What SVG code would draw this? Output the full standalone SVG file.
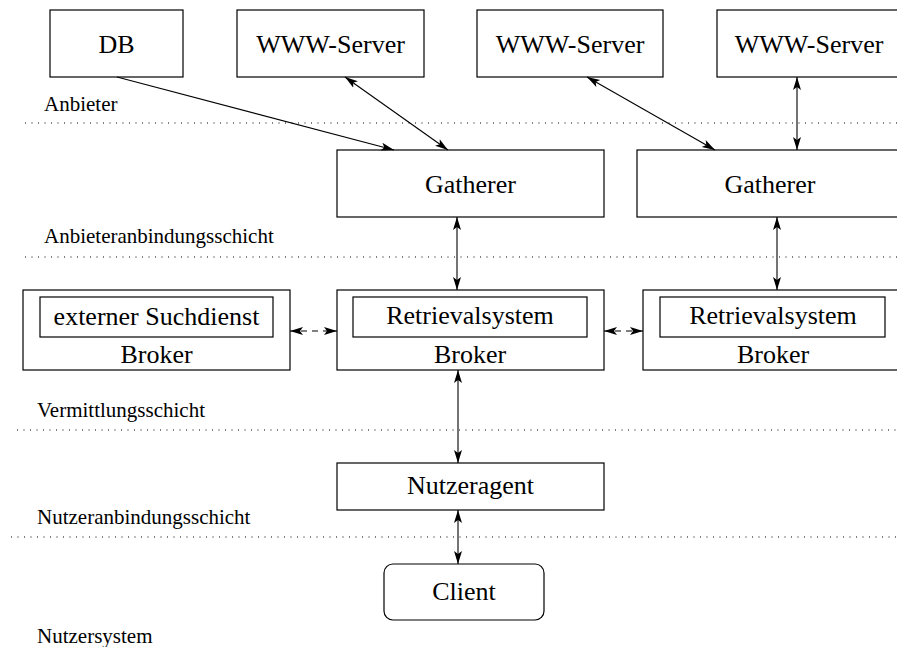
<svg xmlns="http://www.w3.org/2000/svg" width="897" height="647" viewBox="0 0 897 647">
<style>
.box{fill:#fff;stroke:#000;stroke-width:1.2}
.big{font-family:"Liberation Serif","Times New Roman",serif;font-size:26px;fill:#000;text-anchor:middle}
.small{font-family:"Liberation Serif","Times New Roman",serif;font-size:21px;fill:#000}
.dot{stroke:#000;stroke-width:1;stroke-dasharray:1 5.5;fill:none}
.c{stroke:#000;stroke-width:1.1;fill:none;marker-end:url(#ah)}
.cc{stroke:#000;stroke-width:1.1;fill:none;marker-end:url(#ah);marker-start:url(#ah)}
.dash{stroke-dasharray:6 5}
</style>
<defs>
<marker id="ah" markerUnits="userSpaceOnUse" markerWidth="14" markerHeight="10" refX="13" refY="4" orient="auto-start-reverse" viewBox="0 0 14 8">
<path d="M0,0 L13,4 L0,8 L3,4 z" fill="#000"/>
</marker>
</defs>

<g id="layers">
<line class="dot" x1="25" y1="123" x2="897" y2="123"/>
<line class="dot" x1="25" y1="257" x2="897" y2="257"/>
<line class="dot" x1="17" y1="430" x2="897" y2="430"/>
<line class="dot" x1="11" y1="537" x2="897" y2="537"/>
<text class="small" x="44" y="111">Anbieter</text>
<text class="small" x="44" y="243">Anbieteranbindungsschicht</text>
<text class="small" x="37" y="417">Vermittlungsschicht</text>
<text class="small" x="37" y="524">Nutzeranbindungsschicht</text>
<text class="small" x="37" y="643">Nutzersystem</text>
</g>

<g id="db"><rect class="box" x="50" y="10" width="133" height="67"/><text class="big" x="116.5" y="53">DB</text></g>
<g id="www1"><rect class="box" x="237" y="10" width="187" height="67"/><text class="big" x="330.5" y="53">WWW-Server</text></g>
<g id="www2"><rect class="box" x="477" y="10" width="186" height="67"/><text class="big" x="570" y="53">WWW-Server</text></g>
<g id="www3"><rect class="box" x="717" y="10" width="187" height="67"/><text class="big" x="809" y="53">WWW-Server</text></g>

<g id="gatherer1"><rect class="box" x="337" y="150" width="267" height="67"/><text class="big" x="470.5" y="193">Gatherer</text></g>
<g id="gatherer2"><rect class="box" x="637" y="150" width="267" height="67"/><text class="big" x="770" y="193">Gatherer</text></g>

<g id="broker1"><rect class="box" x="23" y="290" width="267" height="80"/><rect class="box" x="40" y="297" width="233" height="40"/><text class="big" x="156.5" y="325">externer Suchdienst</text><text class="big" x="156.5" y="363">Broker</text></g>
<g id="broker2"><rect class="box" x="337" y="290" width="267" height="80"/><rect class="box" x="353" y="297" width="234" height="40"/><text class="big" x="470" y="324">Retrievalsystem</text><text class="big" x="470" y="363">Broker</text></g>
<g id="broker3"><rect class="box" x="643" y="290" width="260" height="80"/><rect class="box" x="660" y="297" width="225" height="40"/><text class="big" x="773" y="324">Retrievalsystem</text><text class="big" x="773" y="363">Broker</text></g>

<g id="nutzeragent"><rect class="box" x="337" y="463" width="267" height="47"/><text class="big" x="470.5" y="494">Nutzeragent</text></g>
<g id="client"><rect class="box" x="384" y="564" width="160" height="56" rx="9" ry="9"/><text class="big" x="464" y="600">Client</text></g>

<g id="connectors">
<line class="c" x1="117" y1="77" x2="394" y2="150"/>
<line class="cc" x1="345" y1="77" x2="448" y2="150"/>
<line class="cc" x1="587" y1="77" x2="715" y2="150"/>
<line class="cc" x1="797" y1="77" x2="797" y2="150"/>
<line class="cc" x1="457" y1="217" x2="457" y2="290"/>
<line class="cc" x1="777" y1="217" x2="777" y2="290"/>
<line class="cc dash" x1="290" y1="331" x2="337" y2="331"/>
<line class="cc dash" x1="604" y1="331" x2="643" y2="331"/>
<line class="cc" x1="458" y1="370" x2="458" y2="463"/>
<line class="cc" x1="458" y1="510" x2="458" y2="564"/>
</g>
</svg>
